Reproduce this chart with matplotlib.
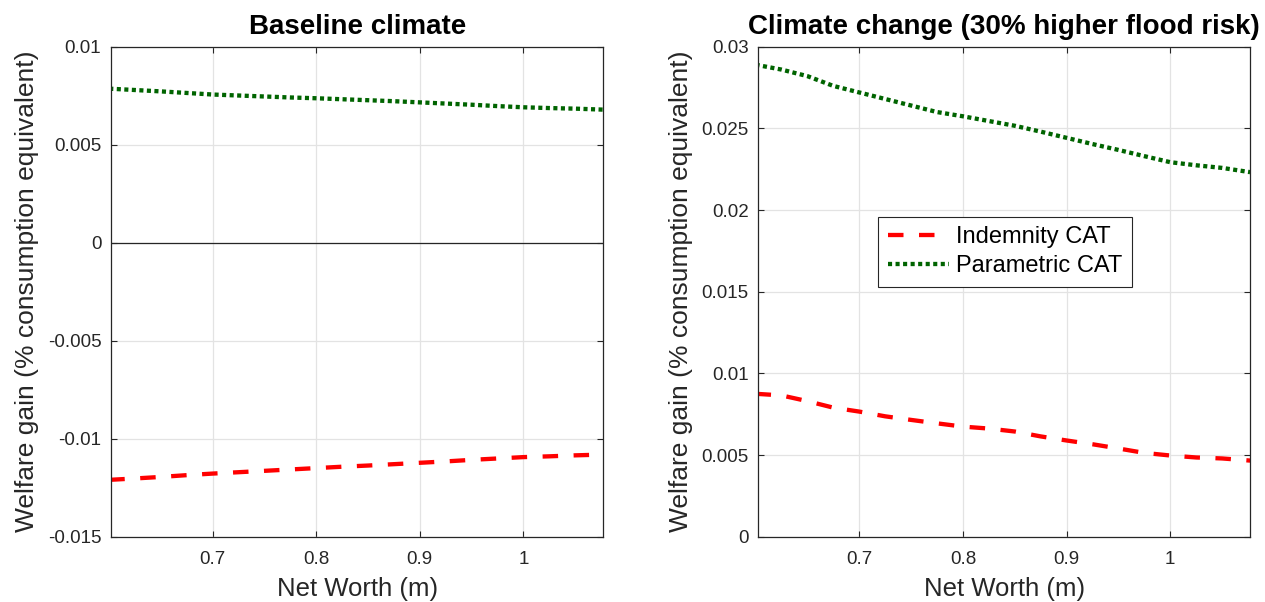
import matplotlib
matplotlib.use("Agg")
import matplotlib.pyplot as plt
from matplotlib.ticker import FixedLocator, FixedFormatter

plt.rcParams['font.family'] = ['Liberation Sans', 'DejaVu Sans']

# ---- data ----
x_grid = [0.600, 0.625, 0.650, 0.675, 0.700, 0.725, 0.750, 0.775, 0.800, 0.825,
          0.850, 0.875, 0.900, 0.925, 0.950, 0.975, 1.000, 1.025, 1.050, 1.077]

base_indemnity = [-0.01210, -0.01203, -0.01195, -0.01186, -0.01178, -0.01171, -0.01164,
                  -0.01157, -0.01150, -0.01143, -0.01137, -0.01130, -0.01123, -0.01116,
                  -0.01108, -0.01101, -0.01094, -0.01090, -0.01085, -0.01081]
base_parametric = [0.00786, 0.00779, 0.00772, 0.00764, 0.00756, 0.00751, 0.00746, 0.00741,
                   0.00737, 0.00732, 0.00727, 0.00722, 0.00716, 0.00710, 0.00704, 0.00697,
                   0.00691, 0.00687, 0.00684, 0.00679]

cc_indemnity = [0.00875, 0.00865, 0.00830, 0.00790, 0.00766, 0.00737, 0.00715, 0.00694,
                0.00674, 0.00662, 0.00644, 0.00614, 0.00589, 0.00566, 0.00540, 0.00513,
                0.00497, 0.00485, 0.00479, 0.00466]
cc_parametric = [0.02890, 0.02860, 0.02820, 0.02760, 0.02720, 0.02680, 0.02640, 0.02600,
                 0.02574, 0.02545, 0.02516, 0.02480, 0.02442, 0.02404, 0.02368, 0.02330,
                 0.02293, 0.02274, 0.02258, 0.02232]

series_names = ["Indemnity CAT", "Parametric CAT"]
titles = ["Baseline climate", "Climate change (30% higher flood risk)"]
xlabel = "Net Worth (m)"
ylabel = "Welfare gain (% consumption equivalent)"
x_ticks = [0.7, 0.8, 0.9, 1.0]
x_ticklabels = ["0.7", "0.8", "0.9", "1"]
left_yticks = [-0.015, -0.01, -0.005, 0, 0.005, 0.01]
left_yticklabels = ["-0.015", "-0.01", "-0.005", "0", "0.005", "0.01"]
right_yticks = [0, 0.005, 0.01, 0.015, 0.02, 0.025, 0.03]
right_yticklabels = ["0", "0.005", "0.01", "0.015", "0.02", "0.025", "0.03"]

# ---- style ----
AX_COLOR = "#262626"
GRID_COLOR = "#e3e3e3"
RED = "#ff0000"
GREEN = "#006400"
LW = 3.1

fig = plt.figure(figsize=(12.65, 6.02), dpi=100)
ax1 = fig.add_axes([0.08775, 0.1085, 0.3892, 0.8139])
ax2 = fig.add_axes([0.5994, 0.1085, 0.3889, 0.8139])


def style(ax, yticks, ylabels, ylim, xlim):
    ax.set_xlim(*xlim)
    ax.set_ylim(*ylim)
    ax.xaxis.set_major_locator(FixedLocator(x_ticks))
    ax.xaxis.set_major_formatter(FixedFormatter(x_ticklabels))
    ax.yaxis.set_major_locator(FixedLocator(yticks))
    ax.yaxis.set_major_formatter(FixedFormatter(ylabels))
    ax.grid(True, color=GRID_COLOR, linewidth=0.9)
    ax.set_axisbelow(True)
    for s in ax.spines.values():
        s.set_color(AX_COLOR)
        s.set_linewidth(0.9)
    ax.tick_params(direction="in", length=4, width=0.8, colors=AX_COLOR,
                   top=True, right=True, labelsize=13.5)
    ax.tick_params(axis="x", pad=10)
    ax.tick_params(axis="y", pad=7)
    ax.set_xlabel(xlabel, fontsize=18.5, color=AX_COLOR, labelpad=7)
    ax.set_ylabel(ylabel, fontsize=19, color=AX_COLOR, labelpad=6)


style(ax1, left_yticks, left_yticklabels, (-0.015, 0.01), (0.6017, 1.0773))
style(ax2, right_yticks, right_yticklabels, (0, 0.03), (0.6026, 1.0771))

ax1.axhline(0, color=AX_COLOR, linewidth=0.9, zorder=1.5)

dash = (0, (3.6, 3.6))
dot = (0, (0.95, 0.8))

ax1.plot(x_grid, base_indemnity, color=RED, linewidth=LW, linestyle=dash,
         dash_capstyle="butt", label=series_names[0])
ax1.plot(x_grid, base_parametric, color=GREEN, linewidth=LW, linestyle=dot,
         dash_capstyle="butt", label=series_names[1])
ax2.plot(x_grid, cc_indemnity, color=RED, linewidth=LW, linestyle=dash,
         dash_capstyle="butt", label=series_names[0])
ax2.plot(x_grid, cc_parametric, color=GREEN, linewidth=LW, linestyle=dot,
         dash_capstyle="butt", label=series_names[1])

ax1.set_title(titles[0], fontsize=20, fontweight="bold", pad=9)
ax2.set_title(titles[1], fontsize=20, fontweight="bold", pad=9)

leg = ax2.legend(loc="upper left", bbox_to_anchor=(0.2439, 0.653), fontsize=17,
                 frameon=True, fancybox=False, edgecolor=AX_COLOR, framealpha=1,
                 handlelength=2.6, handletextpad=0.3, borderpad=0.4,
                 labelspacing=0.3, borderaxespad=0)
leg.get_frame().set_linewidth(0.8)

fig.savefig("out.png", dpi=100)
